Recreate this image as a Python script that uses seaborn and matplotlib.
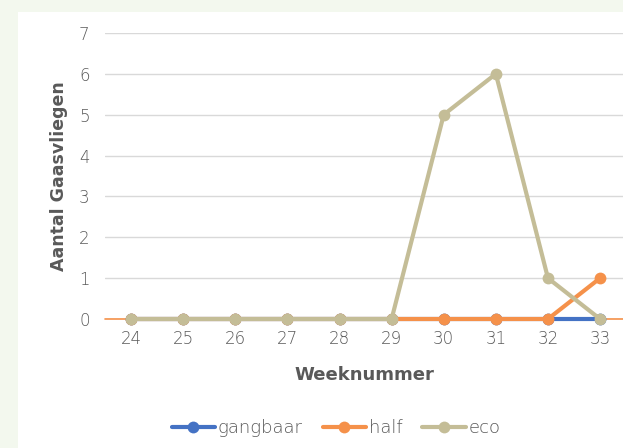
import matplotlib
matplotlib.use("Agg")
import matplotlib.pyplot as plt
import seaborn as sns
import pandas as pd
from matplotlib.patches import Rectangle

weeks = [24, 25, 26, 27, 28, 29, 30, 31, 32, 33]
gangbaar = [0, 0, 0, 0, 0, 0, 0, 0, 0, 0]
half = [0, 0, 0, 0, 0, 0, 0, 0, 0, 1]
eco = [0, 0, 0, 0, 0, 0, 5, 6, 1, 0]
series_names = ["gangbaar", "half", "eco"]
colors = {"gangbaar": "#4472C4", "half": "#F5914A", "eco": "#C4BD97"}

df = pd.DataFrame({
    "Week": weeks * 3,
    "Aantal": gangbaar + half + eco,
    "Serie": ["gangbaar"] * len(weeks) + ["half"] * len(weeks) + ["eco"] * len(weeks),
})

sns.set_style("white")
plt.rcParams["font.family"] = ["DejaVu Sans"]

fig = plt.figure(figsize=(6.23, 4.48), dpi=100)
fig.patch.set_facecolor("#F3F8EE")
fig.patches.append(Rectangle((18 / 623, 0), 1, (448 - 12) / 448, transform=fig.transFigure,
                             facecolor="white", edgecolor="none", zorder=-10))

ax = fig.add_axes([105 / 623, 129 / 448, 518 / 623, 286 / 448])
ax.set_zorder(5)
ax.set_facecolor("none")

sns.lineplot(data=df, x="Week", y="Aantal", hue="Serie", hue_order=series_names,
             palette=colors, marker="o", markersize=8.5, markeredgewidth=0,
             linewidth=3.0, ax=ax, zorder=3)

ax.set_xlim(23.5, 33.44)
ax.set_ylim(0, 7)
ax.set_xticks(weeks)
ax.set_xticklabels([str(w) for w in weeks])
ax.set_yticks(range(0, 8))
ax.grid(axis="y", color="#D9D9D9", linewidth=1)
ax.set_axisbelow(True)
ax.axhline(0, color="#F5914A", linewidth=1.2, zorder=2)
for s in ax.spines.values():
    s.set_visible(False)
ax.tick_params(axis="both", length=0, labelsize=12, labelcolor="#595959")
ax.tick_params(axis="x", pad=8)
ax.tick_params(axis="y", pad=11)
for lbl in ax.get_xticklabels() + ax.get_yticklabels():
    lbl.set_fontweight("light")

for line in ax.lines:
    line.set_clip_on(False)

ax.set_xlabel("Weeknummer", fontsize=13, fontweight="bold", color="#595959", labelpad=13)
ax.set_ylabel("Aantal Gaasvliegen", fontsize=12.5, fontweight="bold", color="#595959", labelpad=8)

leg = ax.legend(loc="center", bbox_to_anchor=(336 / 623, 20 / 448),
                bbox_transform=fig.transFigure, ncol=3, frameon=False,
                fontsize=13, handlelength=2.4, columnspacing=1.1, handletextpad=0.15,
                labelcolor="#595959")
for t in leg.get_texts():
    t.set_fontweight("light")

fig.savefig("out.png", dpi=100, facecolor=fig.get_facecolor())
